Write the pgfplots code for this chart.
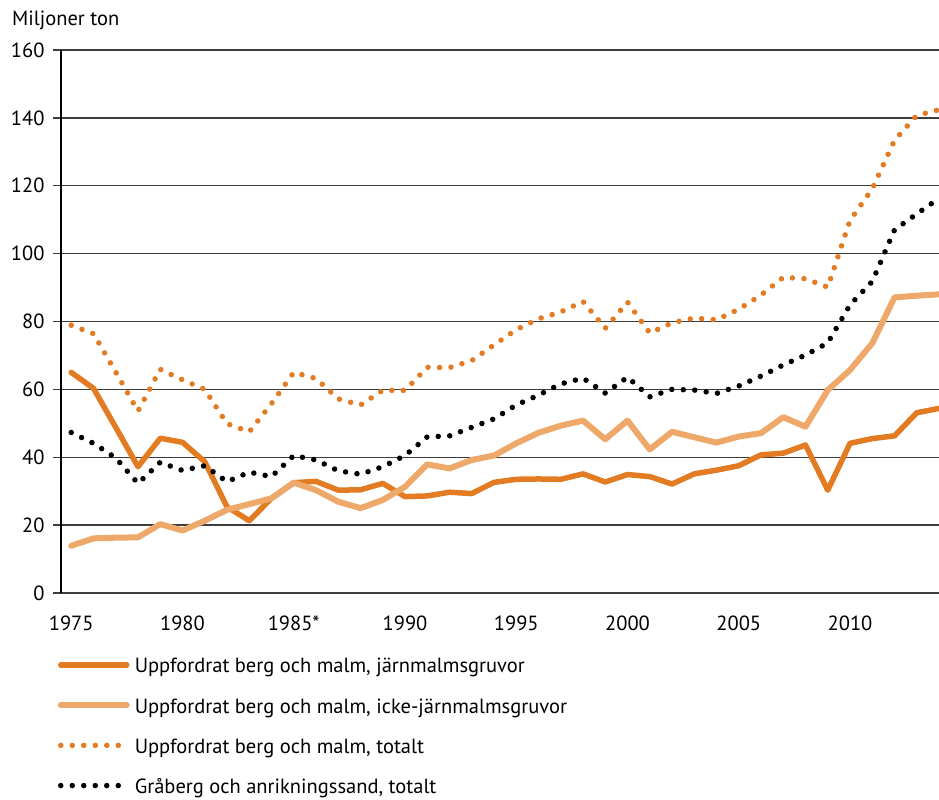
\documentclass[border=0pt]{standalone}
\usepackage{fontspec}
\setmainfont{PT Sans}
\usepackage{pgfplots}
\pgfplotsset{compat=1.18}
\usepackage{pgfplotstable}
\definecolor{dorange}{HTML}{E27B22}
\definecolor{lorange}{HTML}{EDA86A}
\definecolor{gridc}{HTML}{3C3C3C}
\pgfplotstableread{
year J I T G
1975 65.0 13.9 78.9 47.3
1976 60.3 16.1 76.4 44.1
1977 48.8 16.3 65.1 39.8
1978 37.2 16.4 53.6 32.3
1979 45.6 20.3 65.9 38.5
1980 44.4 18.4 62.8 36.1
1981 38.7 21.3 60.0 37.5
1982 25.4 24.5 49.9 32.8
1983 21.3 26.2 47.5 35.6
1984 27.9 27.9 55.8 34.3
1985 32.5 32.5 65.0 40.5
1986 32.9 30.3 63.2 39.2
1987 30.3 26.9 57.2 36.0
1988 30.4 25.0 55.4 35.0
1989 32.3 27.4 59.7 37.2
1990 28.4 31.3 59.7 40.5
1991 28.6 37.9 66.5 46.0
1992 29.7 36.7 66.4 46.3
1993 29.3 39.2 68.5 48.8
1994 32.6 40.5 73.1 51.3
1995 33.5 44.1 77.6 55.4
1996 33.6 47.2 80.8 58.3
1997 33.5 49.3 82.8 61.6
1998 35.1 50.8 85.9 63.3
1999 32.7 45.3 78.0 58.9
2000 34.9 50.8 85.7 63.6
2001 34.3 42.3 76.6 57.8
2002 32.1 47.5 79.6 60.0
2003 35.1 45.9 81.0 59.8
2004 36.2 44.3 80.5 58.8
2005 37.5 46.1 83.6 61.0
2006 40.7 47.1 87.8 63.9
2007 41.2 51.8 93.0 67.2
2008 43.6 49.0 92.6 70.1
2009 30.3 59.8 90.1 73.7
2010 44.1 65.7 109.8 84.9
2011 45.5 73.6 119.1 91.8
2012 46.3 87.1 133.4 107.0
2013 53.1 87.6 140.7 111.7
2014 54.4 88.0 142.4 116.3
}\data
\begin{document}
\begin{tikzpicture}[x=1bp,y=1bp]
\useasboundingbox (0,0) rectangle (939,800);
\begin{axis}[
  at={(61bp,207bp)}, anchor=south west,
  scale only axis, width=878bp, height=543bp,
  xmin=1974.54, xmax=2014, ymin=0, ymax=160,
  clip=false,
  font=\fontsize{20.5bp}{24bp}\selectfont,
  /pgf/number format/assume math mode=true,
  /pgf/number format/1000 sep={},
  xtick={1975,1980,1985,1990,1995,2000,2005,2010},
  xticklabels={1975,1980,1985*,1990,1995,2000,2005,2010},
  ytick={0,20,...,160},
  axis lines*=left,
  axis line style={-},
  x axis line style={draw=none},
  y axis line style={black, line width=1.2bp},
  ymajorgrids,
  grid style={gridc, line width=1.3bp},
  tick align=outside,
  major tick length=8bp,
  xtick style={draw=none},
  ytick style={gridc, line width=1.3bp},
  xticklabel style={yshift=-11bp},
  yticklabel style={xshift=-5bp},
  legend cell align=left,
  legend style={at={(-0.0037,-0.1215)}, anchor=north west, draw=none, fill=none,
    inner sep=0pt, outer sep=0pt, row sep=22.2bp,
    font=\fontsize{20.5bp}{24bp}\selectfont,
    nodes={inner sep=0pt, text height=14bp, text depth=4bp},
    /tikz/every odd column/.style={column sep=5bp}},
  legend image code/.code={\draw[#1] (0bp,3bp) -- (66bp,3bp);},
]
\addplot[dorange, line width=5.5bp, line join=round, line cap=round] table[x=year,y=J]{\data};
\addlegendentry{Uppfordrat berg och malm, järnmalmsgruvor}
\addplot[lorange, line width=6bp, line join=round, line cap=round] table[x=year,y=I]{\data};
\addlegendentry{Uppfordrat berg och malm, icke-järnmalmsgruvor}
\addplot[dorange, line width=5.5bp, line cap=round, dash pattern=on 0bp off 11.5bp] table[x=year,y=T]{\data};
\addlegendentry{Uppfordrat berg och malm, totalt}
\addplot[black, line width=5.5bp, line cap=round, dash pattern=on 0bp off 11.5bp] table[x=year,y=G]{\data};
\addlegendentry{Gråberg och anrikningssand, totalt}
\node[anchor=base west, inner sep=0pt, font=\fontsize{20.5bp}{24bp}\selectfont] at (rel axis cs:-0.0558,1.0446) {Miljoner ton};
\end{axis}
\end{tikzpicture}
\end{document}
